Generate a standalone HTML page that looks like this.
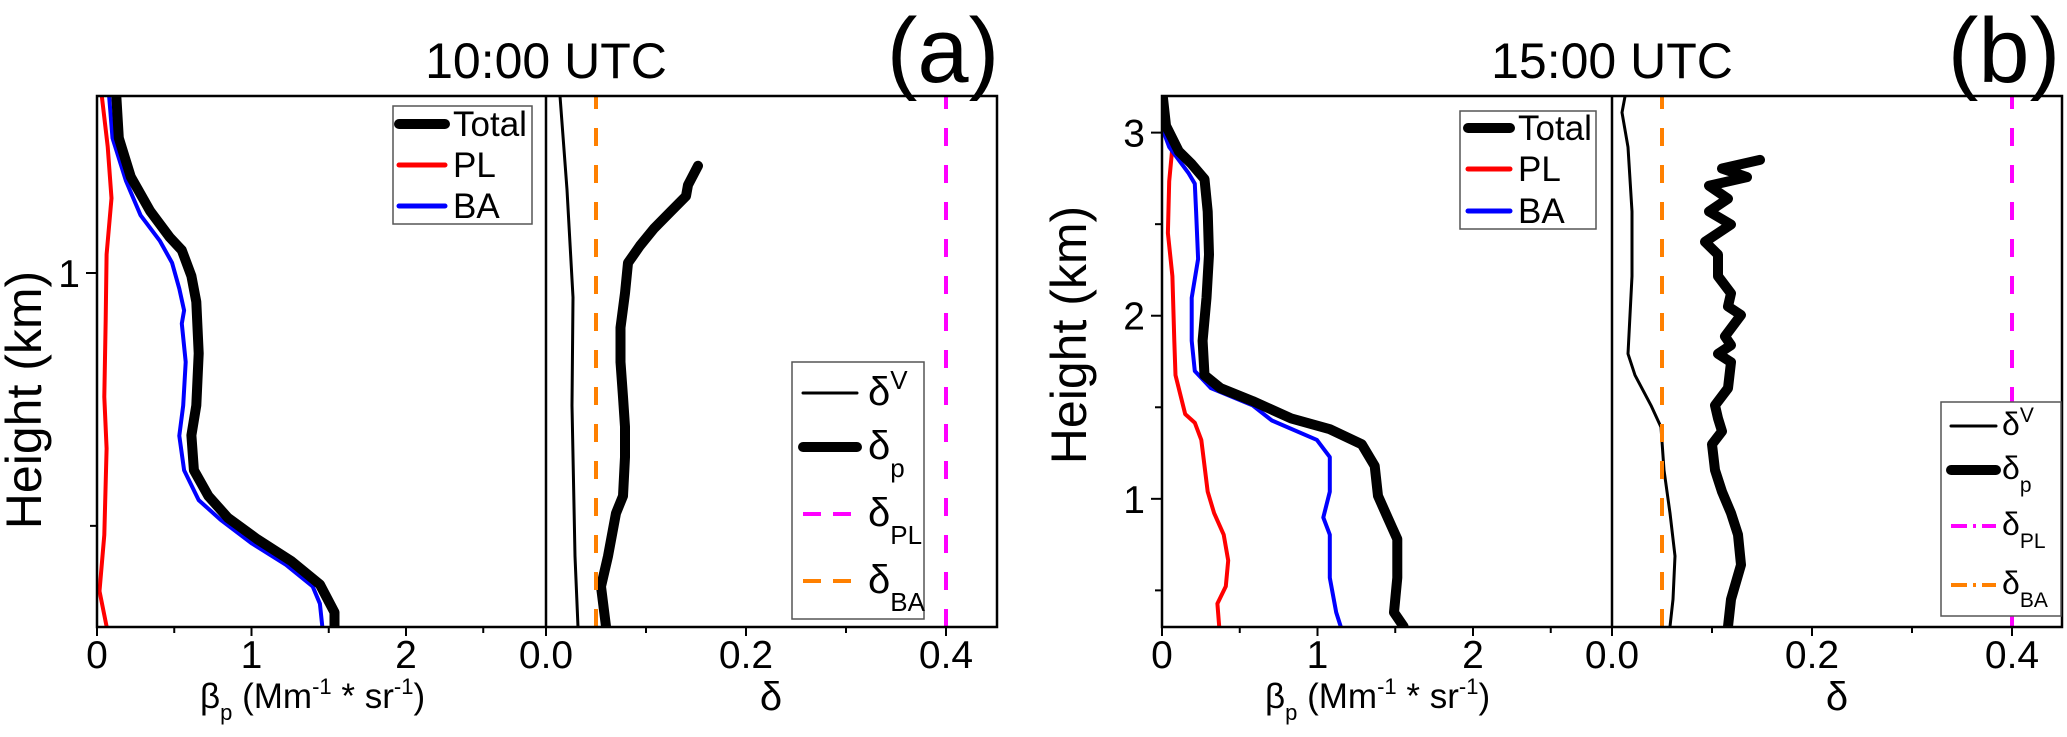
<!DOCTYPE html>
<html><head><meta charset="utf-8"><style>
html,body{margin:0;padding:0;background:#fff;}
svg{display:block;font-family:"Liberation Sans",Arial,sans-serif;}
</style></head><body>
<svg id="chart" width="2067" height="737" viewBox="0 0 2067 737" xmlns="http://www.w3.org/2000/svg"></svg>
<script>
// ---------- Panel (a) 10:00 UTC data ----------
const aTotalH = [1.350,1.267,1.190,1.122,1.071,1.045,0.994,0.943,0.841,0.738,0.679,0.610,0.559,0.516,0.474,0.431,0.384,0.329,0.300];
const aTotalB = [0.125,0.141,0.219,0.345,0.470,0.549,0.611,0.643,0.658,0.643,0.611,0.627,0.721,0.847,1.035,1.255,1.443,1.537,1.537];
const aBAH = [1.350,1.267,1.182,1.114,1.063,1.020,0.969,0.926,0.900,0.824,0.738,0.678,0.610,0.551,0.512,0.465,0.423,0.380,0.346,0.301];
const aBAB = [0.078,0.100,0.188,0.282,0.408,0.486,0.533,0.564,0.549,0.574,0.558,0.533,0.564,0.658,0.800,1.004,1.223,1.396,1.443,1.458];
const aPLH = [1.350,1.250,1.148,1.037,0.909,0.755,0.653,0.482,0.371,0.301];
const aPLB = [0.031,0.069,0.094,0.062,0.056,0.047,0.062,0.047,0.016,0.062];
const aDVH = [1.350,1.165,0.952,0.738,0.440,0.300];
const aDVD = [0.014,0.021,0.027,0.026,0.029,0.032];
const aDPH = [1.212,1.174,1.152,1.122,1.088,1.054,1.020,0.960,0.892,0.824,0.755,0.696,0.636,0.559,0.525,0.440,0.380,0.301];
const aDPD = [0.152,0.142,0.140,0.125,0.108,0.094,0.082,0.079,0.0745,0.0745,0.077,0.079,0.079,0.077,0.070,0.062,0.055,0.060];
// ---------- Panel (b) 15:00 UTC data ----------
const bTotalH = [3.197,3.038,2.898,2.828,2.746,2.569,2.334,2.098,1.863,1.675,1.604,1.534,1.439,1.380,1.298,1.180,1.016,0.898,0.780,0.569,0.380,0.303];
const bTotalB = [0.005,0.026,0.108,0.191,0.273,0.294,0.302,0.286,0.261,0.273,0.377,0.583,0.831,1.079,1.285,1.368,1.389,1.451,1.513,1.513,1.492,1.554];
const bBAH = [3.197,3.016,2.921,2.780,2.721,2.569,2.310,2.098,1.863,1.698,1.604,1.510,1.428,1.322,1.228,1.039,0.898,0.804,0.569,0.380,0.303];
const bBAB = [0.000,0.005,0.046,0.170,0.211,0.219,0.232,0.191,0.191,0.211,0.315,0.583,0.707,0.996,1.079,1.079,1.037,1.079,1.079,1.120,1.149];
const bPLH = [2.992,2.921,2.734,2.451,2.216,1.863,1.675,1.463,1.416,1.322,1.039,0.922,0.804,0.663,0.522,0.428,0.303];
const bPLB = [0.026,0.067,0.046,0.038,0.067,0.079,0.087,0.149,0.211,0.253,0.294,0.335,0.397,0.426,0.410,0.356,0.368];
const bDVH = [3.197,3.110,2.921,2.569,2.216,1.792,1.675,1.510,1.392,1.157,0.922,0.687,0.451,0.303];
const bDVD = [0.013,0.010,0.016,0.020,0.020,0.016,0.023,0.039,0.049,0.052,0.058,0.063,0.061,0.058];
const bDPH = [2.851,2.804,2.757,2.710,2.639,2.569,2.498,2.404,2.334,2.216,2.122,2.051,2.004,1.887,1.839,1.792,1.746,1.604,1.510,1.439,1.369,1.298,1.157,1.039,0.922,0.804,0.639,0.451,0.303];
const bDPD = [0.148,0.110,0.135,0.097,0.116,0.097,0.119,0.093,0.106,0.106,0.119,0.116,0.129,0.113,0.119,0.106,0.119,0.116,0.103,0.106,0.110,0.100,0.103,0.110,0.119,0.126,0.129,0.119,0.116];
// reference depolarisation values
const deltaRef = [0.05, 0.4];
const betaTicks = [0,1,2];
const betaMinor = [0.5,1.5,2.5];
const deltaTicks = [0,0.2,0.4];
const deltaTickLabels = ["0.0","0.2","0.4"];
const deltaMinor = [0.1,0.3];
const aHTicks = [1];
const aHMinor = [0.5];
const bHTicks = [1,2,3];
const bHMinor = [0.5,1.5,2.5];

const NS="http://www.w3.org/2000/svg";
const svg=document.getElementById('chart');
function mk(tag,attrs,parent){const e=document.createElementNS(NS,tag);for(const k in attrs)e.setAttribute(k,attrs[k]);(parent||svg).appendChild(e);return e;}
function txt(s,x,y,size,anchor,parent){const t=mk('text',{x:x,y:y,'font-size':size,'text-anchor':anchor||'middle',fill:'#000'},parent);t.textContent=s;return t;}

function panel(cfg){
  const g=mk('g',{});
  
  
  const top=96,bot=627;
  const yS=h=>bot-(h-cfg.hMin)/(cfg.hMax-cfg.hMin)*(bot-top);
  const xB=b=>cfg.x0+b*cfg.bScale;
  const xD=d=>cfg.xd+d*1000;
  const cid='clip'+cfg.id;
  const cp=mk('clipPath',{id:cid},g);mk('rect',{x:cfg.x0,y:top,width:cfg.xr-cfg.x0,height:bot-top},cp);
  const dg=mk('g',{'clip-path':'url(#'+cid+')'},g);
  function cl(xs,hs,fx,color,w,name,dash){
    const d=xs.map((v,i)=>(i?'L':'M')+fx(v).toFixed(1)+','+yS(hs[i]).toFixed(1)).join('');
    const p=mk('path',{d:d,fill:'none',stroke:color,'stroke-width':w,'stroke-linejoin':'round','stroke-linecap':'round'},dg);
    if(dash){p.setAttribute('stroke-dasharray',dash);p.setAttribute('stroke-linecap','butt');}
    
    
  }
  cl(cfg.plB,cfg.plH,xB,'#ff0000',4,'pl-backscatter-line');
  cl(cfg.baB,cfg.baH,xB,'#0000ff',4,'ba-backscatter-line');
  cl(cfg.totB,cfg.totH,xB,'#000',10,'total-backscatter-line');
  cl(cfg.dvD,cfg.dvH,xD,'#000',3,'volume-depol-line');
  cl(cfg.dpD,cfg.dpH,xD,'#000',10,'particle-depol-line');
  cl([deltaRef[0],deltaRef[0]],[cfg.hMin,cfg.hMax],xD,'#ff8000',4,'delta-ba-line','18 19');
  cl([deltaRef[1],deltaRef[1]],[cfg.hMin,cfg.hMax],xD,'#ff00ff',4,'delta-pl-line','18 19');
  const fr=mk('rect',{x:cfg.x0,y:top,width:cfg.xr-cfg.x0,height:bot-top,fill:'none',stroke:'#000','stroke-width':2.5},g);
  
  mk('line',{x1:cfg.xd,y1:top,x2:cfg.xd,y2:bot,stroke:'#000','stroke-width':2.5},g);
  betaTicks.forEach(b=>{mk('line',{x1:xB(b),y1:bot,x2:xB(b),y2:bot+9,stroke:'#000','stroke-width':2},g);
    const t=txt(String(b),xB(b),668,39,'middle',g);});
  betaMinor.forEach(b=>{if(xB(b)<cfg.xd-2)mk('line',{x1:xB(b),y1:bot,x2:xB(b),y2:bot+6,stroke:'#000','stroke-width':2},g);});
  deltaTicks.forEach((d,i)=>{mk('line',{x1:xD(d),y1:bot,x2:xD(d),y2:bot+9,stroke:'#000','stroke-width':2},g);
    const t=txt(deltaTickLabels[i],xD(d),668,39,'middle',g);});
  deltaMinor.forEach(d=>mk('line',{x1:xD(d),y1:bot,x2:xD(d),y2:bot+6,stroke:'#000','stroke-width':2},g));
  cfg.hTicks.forEach(h=>{mk('line',{x1:cfg.x0-11,y1:yS(h),x2:cfg.x0,y2:yS(h),stroke:'#000','stroke-width':2},g);
    const t=txt(String(h),cfg.x0-17,yS(h)+14,39,'end',g);});
  cfg.hMinor.forEach(h=>mk('line',{x1:cfg.x0-7,y1:yS(h),x2:cfg.x0,y2:yS(h),stroke:'#000','stroke-width':2},g));
  const yl=txt('Height (km)',0,0,50,'middle',g);yl.setAttribute('transform','translate('+(cfg.ylx+17)+','+cfg.yly+') rotate(-90)');
  
  const bl=mk('text',{x:cfg.x0+103,y:708,'font-size':35,fill:'#000'},g);
  bl.innerHTML='β<tspan font-size="22" dy="12">p</tspan><tspan dy="-12"> (Mm</tspan><tspan font-size="22" dy="-14">-1</tspan><tspan dy="14"> * sr</tspan><tspan font-size="22" dy="-14">-1</tspan><tspan dy="14">)</tspan>';
  
  const dl=txt('δ',xD(0.225),710,40,'middle',g);
  const tl=txt(cfg.title,cfg.xd,78,50,'middle',g);
  const pl=txt(cfg.label,cfg.labelX,82,92,'middle',g);
  const L1=cfg.leg1;
  const lg=mk('g',{},g);
  mk('rect',{x:L1.x,y:L1.y,width:L1.w,height:L1.h,fill:'#fff',stroke:'#555','stroke-width':1.5},lg);
  [['Total','#000',10],['PL','#ff0000',5],['BA','#0000ff',5]].forEach((e,i)=>{
    const yy=L1.ys[i];
    mk('line',{x1:L1.lx1,y1:yy,x2:L1.lx2,y2:yy,stroke:e[1],'stroke-width':e[2],'stroke-linecap':'round'},lg);
    const t=txt(e[0],L1.tx,yy+12,35,'start',lg);
  });
  const L2=cfg.leg2;
  const lg2=mk('g',{},g);
  mk('rect',{x:L2.x,y:L2.y,width:L2.w,height:L2.h,fill:'#fff',stroke:'#555','stroke-width':1.5},lg2);
  const ents=[['V','#000',3,null,-1],['p','#000',10,null,1],['PL','#ff00ff',4,L2.dash,1],['BA','#ff8000',4,L2.dash,1]];
  ents.forEach((e,i)=>{
    const yy=L2.ys[i];
    const ln=mk('line',{x1:L2.lx1,y1:yy,x2:L2.lx2,y2:yy,stroke:e[1],'stroke-width':e[2],'stroke-linecap':e[3]?'butt':'round'},lg2);
    if(e[3])ln.setAttribute('stroke-dasharray',e[3]);
    const t=mk('text',{x:L2.tx,y:yy+L2.base,'font-size':L2.fs,fill:'#000'},lg2);
    t.innerHTML='δ<tspan font-size="'+Math.round(L2.fs*0.65)+'" dy="'+(e[4]<0?-L2.sup:L2.sub)+'">'+e[0]+'</tspan>';
    
  });
}

panel({id:'a',name:'panel-a',x0:97,xd:546,xr:997,bScale:154.5,hMin:0.30,hMax:1.35,
  totB:aTotalB,totH:aTotalH,baB:aBAB,baH:aBAH,plB:aPLB,plH:aPLH,dvD:aDVD,dvH:aDVH,dpD:aDPD,dpH:aDPH,
  hTicks:aHTicks,hMinor:aHMinor,ylx:24,yly:400,title:'10:00 UTC',label:'(a)',labelX:943,
  leg1:{x:393,y:106,w:139,h:118,ys:[124,165,206],lx1:399,lx2:445,tx:453},
  leg2:{x:792,y:362,w:132,h:257,ys:[393,447,514,581],lx1:803,lx2:857,tx:868,fs:40,dash:'18 12',base:12,sub:18,sup:16}});
panel({id:'b',name:'panel-b',x0:1162,xd:1612,xr:2062,bScale:155.5,hMin:0.30,hMax:3.2,
  totB:bTotalB,totH:bTotalH,baB:bBAB,baH:bBAH,plB:bPLB,plH:bPLH,dvD:bDVD,dvH:bDVH,dpD:bDPD,dpH:bDPH,
  hTicks:bHTicks,hMinor:bHMinor,ylx:1069,yly:335,title:'15:00 UTC',label:'(b)',labelX:2004,
  leg1:{x:1460,y:111,w:136,h:118,ys:[128,169,211],lx1:1468,lx2:1510,tx:1518},
  leg2:{x:1941,y:402,w:120,h:214,ys:[426,470,526,585],lx1:1951,lx2:1996,tx:2002,fs:32,dash:'16 6 3 6',base:9,sub:13,sup:13}});
</script>
</body></html>
